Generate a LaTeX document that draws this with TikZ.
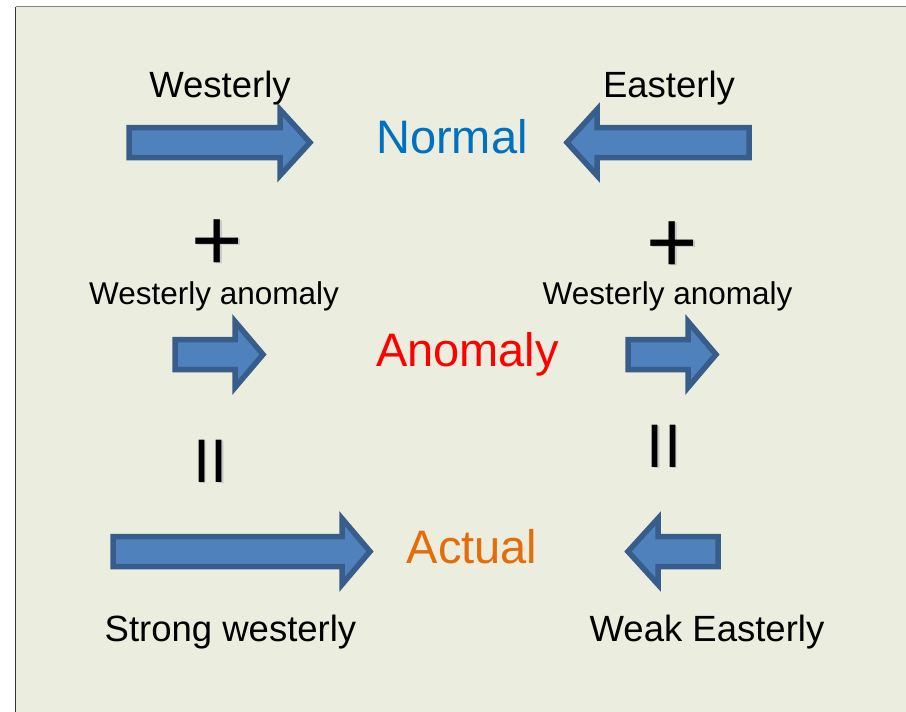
\documentclass[tikz,border=0pt]{standalone}
\usepackage{fontspec}
\setmainfont{Liberation Sans}
\definecolor{bgfill}{HTML}{EBEEDE}
\definecolor{afill}{HTML}{4F81BD}
\definecolor{aline}{HTML}{385D8A}
\definecolor{nblue}{HTML}{0070C0}
\definecolor{aorange}{HTML}{E46C0A}
\newcommand\rightarr[4]{\draw[warrow] (#1,#4-15) -- (#2,#4-15) -- (#2,#4-33) -- (#3,#4) -- (#2,#4+33) -- (#2,#4+15) -- (#1,#4+15) -- cycle;}
\newcommand\leftarr[4]{\draw[warrow] (#3,#4-15) -- (#2,#4-15) -- (#2,#4-33) -- (#1,#4) -- (#2,#4+33) -- (#2,#4+15) -- (#3,#4+15) -- cycle;}
\begin{document}
\begin{tikzpicture}[x=1pt,y=-1pt,
  warrow/.style={fill=afill,draw=aline,line width=5.5pt,line join=miter},
  lbl/.style={inner sep=0pt,anchor=base,text=black,font=\fontsize{36.5}{40}\selectfont},
  small/.style={inner sep=0pt,anchor=base,text=black,font=\fontsize{31.5}{36}\selectfont},
  big/.style={inner sep=0pt,anchor=base,font=\fontsize{47}{52}\selectfont},
  plussym/.style={inner sep=0pt,anchor=base,text height=0.6em,text depth=0pt,scale=2,font=\fontsize{44}{46}\selectfont},
  eqsym/.style={inner sep=0pt,anchor=base,text height=0.72em,text depth=0pt,font=\fontsize{61.5}{64}\selectfont},
  shadowcol/.style={text=black!22}]
\useasboundingbox (0,0) rectangle (906,712);
\fill[white] (0,0) rectangle (906,712);
\fill[bgfill] (16,7) rectangle (906,712);
\draw[gray,line width=1pt] (16,6.5) -- (906,6.5);
\draw[black!80,line width=1pt] (15.5,6.5) -- (15.5,712);
% arrows
\rightarr{129}{280}{310}{142.5}
\leftarr{567}{597}{749}{142.5}
\rightarr{175}{235}{263}{354.5}
\rightarr{628}{688}{716}{354.5}
\rightarr{113}{342}{370}{551.5}
\leftarr{628}{658}{718}{551.5}
% texts
\node[lbl] (w1) at (220,97) {Westerly};
\node[lbl] (e1) at (669,97) {Easterly};
\node[big,text=nblue] (normal) at (452,153) {Normal};
\node[plussym,shadowcol] at (219,271.5) {+};
\node[plussym] (plus1) at (217.5,270) {+};
\node[plussym,shadowcol] at (674,273.5) {+};
\node[plussym] (plus2) at (672.5,272) {+};
\node[small] (wa1) at (214,304) {Westerly anomaly};
\node[small] (wa2) at (667.5,304) {Westerly anomaly};
\node[big,text=red] (anomaly) at (467.5,366) {Anomaly};
\node[eqsym,shadowcol] at (212,483.2) {II};
\node[eqsym] (eq1) at (210.5,482) {II};
\node[eqsym,shadowcol] at (665.5,468.2) {II};
\node[eqsym] (eq2) at (664,467) {II};
\node[big,text=aorange] (actual) at (472,563) {Actual};
\node[lbl] (sw) at (230.5,641) {Strong westerly};
\node[lbl] (we) at (707,641) {Weak Easterly};
\end{tikzpicture}
\end{document}
